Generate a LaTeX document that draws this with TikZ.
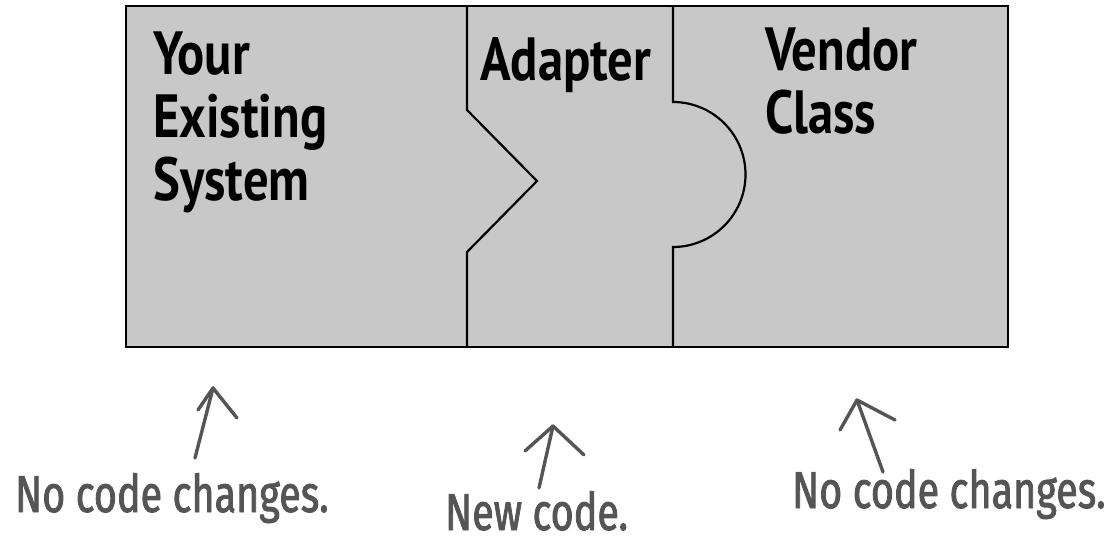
\documentclass[tikz,border=0pt]{standalone}
\usepackage{fontspec}
\newfontfamily\headfont[FakeStretch=0.83]{PT Sans}
\newfontfamily\handfont[FakeStretch=0.76,FakeBold=1.6]{Fira Sans}
\definecolor{panel}{HTML}{C8C8C8}
\definecolor{pen}{HTML}{555555}
\begin{document}
\begin{tikzpicture}[x=1pt,y=-1pt,
  title/.style={anchor=base west,inner sep=0pt,align=left,
    font=\headfont\bfseries\fontsize{61}{63}\selectfont},
  note/.style={anchor=base west,inner sep=0pt,text=pen,
    font=\handfont\fontsize{52}{52}\selectfont},
  hand/.style={draw=pen,line width=3.4pt,line cap=round,line join=round}]
\useasboundingbox (0,0) rectangle (1112,541);
% panel
\draw[fill=panel,line width=2.6pt] (126,6) rectangle (1008,347);
% left divider (arrow-shaped tab)
\draw[line width=2.2pt,line join=miter]
  (467,6) -- (467,110) -- (537,181) -- (467,252) -- (467,347);
% right divider (round socket)
\draw[line width=2.2pt]
  (673,6) -- (673,102)
  .. controls (713,102) and (745.5,134.5) .. (745.5,174.5)
  .. controls (745.5,214.5) and (713,247) .. (673,247) -- (673,347);
% titles (anchored at the baseline of the last line)
\node[title] (sys) at (153,200) {Your\\Existing\\System};
\node[title] (ada) at (480,80) {Adapter};
\node[title] (ven) at (765,133) {Vendor\\Class};
% captions
\node[note] (c1) at (15,512) {No code changes.};
\node[note] (c2) at (445,530) {New code.};
\node[note] (c3) at (792,508) {No code changes.};
% arrows
\coordinate (t1) at (195,458); \coordinate (p1) at (213,388);
\coordinate (h1a) at (198,410); \coordinate (h1b) at (237,418);
\coordinate (t2) at (539,488); \coordinate (p2) at (553,426);
\coordinate (h2a) at (525,451); \coordinate (h2b) at (584,455);
\coordinate (t3) at (883,472); \coordinate (p3) at (857,400);
\coordinate (h3a) at (840,430); \coordinate (h3b) at (895,420);
\draw[hand] (t1) -- (p1); \draw[hand] (h1a) -- (p1) -- (h1b);
\draw[hand] (t2) -- (p2); \draw[hand] (h2a) -- (p2) -- (h2b);
\draw[hand] (t3) -- (p3); \draw[hand] (h3a) -- (p3) -- (h3b);
\end{tikzpicture}
\end{document}
